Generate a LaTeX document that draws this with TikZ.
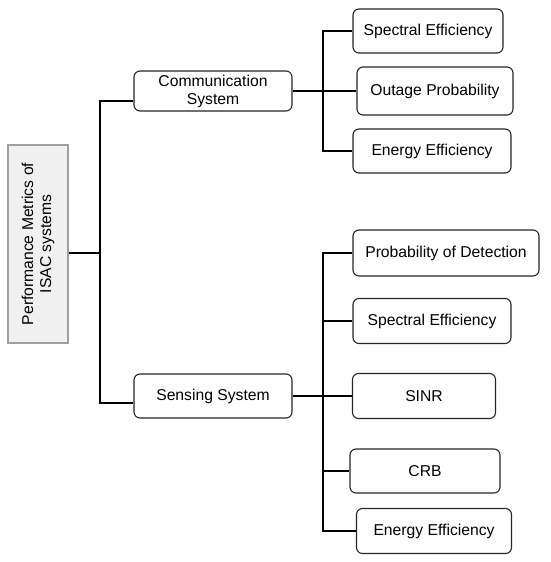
\documentclass[tikz,border=0pt]{standalone}
\usepackage{fontspec}
\setmainfont{Liberation Sans}
\usetikzlibrary{calc}

\begin{document}
\begin{tikzpicture}[x=1pt, y=-1pt,
  every node/.style={font=\fontsize{15.7}{18}\selectfont, text=black},
  leaf/.style={draw=black!85, line width=1.1pt, rounded corners=6pt, fill=white, inner sep=0pt},
  branch/.style={leaf, minimum width=158pt, align=center},
  rootbox/.style={draw=gray!75, line width=1.1pt, fill=gray!12, rotate=90, align=center,
    minimum width=198pt, minimum height=60pt, inner sep=0pt},
  conn/.style={line width=2pt, black}]
\useasboundingbox (0,0) rectangle (550,562);

% root and the two systems
\node[rootbox] (root) at (38,244) {Performance Metrics of\\ISAC systems};
\node[branch, minimum height=40pt] (comm) at (213,91) {Communication\\System};
\node[branch, minimum height=44pt] (sens) at (213,396) {Sensing System};

% communication metrics
\node[leaf, minimum width=150pt, minimum height=44pt] (se1) at (428,31) {Spectral Efficiency};
\node[leaf, minimum width=156pt, minimum height=48pt] (op1) at (435,91) {Outage Probability};
\node[leaf, minimum width=158pt, minimum height=44pt] (ee1) at (432,151) {Energy Efficiency};

% sensing metrics
\node[leaf, minimum width=186pt, minimum height=46pt] (pd2) at (446,253) {Probability of Detection};
\node[leaf, minimum width=158pt, minimum height=45pt] (se2) at (432,321) {Spectral Efficiency};
\node[leaf, minimum width=143pt, minimum height=45pt] (sinr2) at (424,396) {SINR};
\node[leaf, minimum width=150pt, minimum height=44pt] (crb2) at (425,471) {CRB};
\node[leaf, minimum width=155pt, minimum height=45pt] (ee2) at (434,531) {Energy Efficiency};

% trunk
\coordinate (j0) at (100,253);
\coordinate (tc) at (100,101);
\coordinate (ts) at (100,403);
\draw[conn] (root.south |- j0) -- (j0);
\draw[conn] (comm.west |- tc) -- (tc) -- (ts) -- (sens.west |- ts);

% communication spine
\coordinate (cs) at (323,91);
\draw[conn] (comm.east) -- (op1.west);
\draw[conn] (se1.west) -- (se1.west -| cs) -- (ee1.west -| cs) -- (ee1.west);

% sensing spine
\coordinate (ss) at (323,396);
\draw[conn] (sens.east) -- (sinr2.west);
\draw[conn] (pd2.west) -- (pd2.west -| ss) -- (ee2.west -| ss) -- (ee2.west);
\draw[conn] (se2.west -| ss) -- (se2.west);
\draw[conn] (crb2.west -| ss) -- (crb2.west);
\end{tikzpicture}
\end{document}
